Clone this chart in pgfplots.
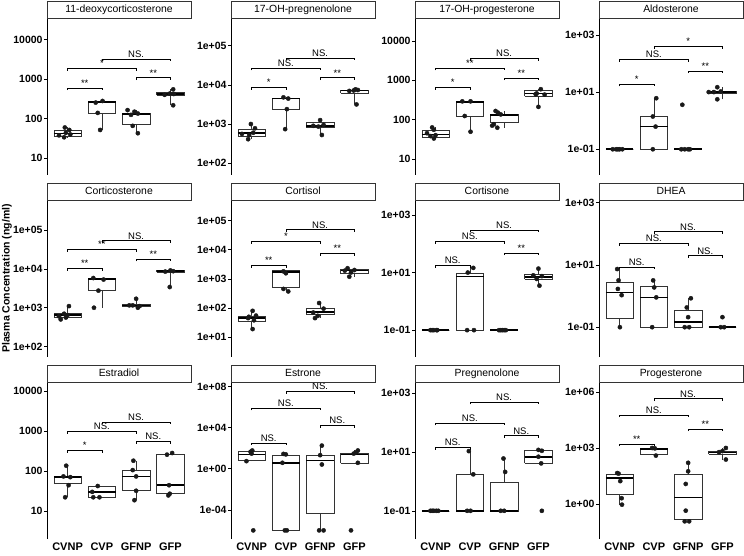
\documentclass[border=0pt]{standalone}
\usepackage{fontspec}
\setmainfont{Liberation Sans}
\usepackage{pgfplots}
\pgfplotsset{compat=1.18}
\usepgfplotslibrary{groupplots}
\definecolor{g20}{HTML}{333333}
\tikzset{
 boxl/.style={draw=g20, line width=0.6pt},
 brk/.style={draw=black, line width=0.55pt},
 lab/.style={anchor=base, yshift=1.6pt, inner sep=0pt, font=\fontsize{9.5}{11}\selectfont},
}
\newcommand{\bx}[6]{%
 \pgfmathsetmacro{\xl}{#1-0.4}%
 \pgfmathsetmacro{\xr}{#1+0.4}%
 \edef\doit{%
  \noexpand\addplot[boxl] coordinates {(#1,#2) (#1,#3)};%
  \noexpand\addplot[boxl] coordinates {(#1,#5) (#1,#6)};%
  \noexpand\addplot[boxl, fill=white] coordinates {(\xl,#3) (\xr,#3) (\xr,#5) (\xl,#5) (\xl,#3)};%
  \noexpand\addplot[black, line width=1.6pt] coordinates {(\xl,#4) (\xr,#4)};%
 }\doit}
\newcommand{\pts}[1]{\addplot[only marks, mark=*, mark size=2.1pt, black!90, mark options={fill=black!90}] coordinates {#1};}
\newcommand{\br}[4]{\draw[brk] ([yshift=-2.3pt]axis cs:#1,#3) -- (axis cs:#1,#3) -- node[lab]{#4} (axis cs:#2,#3) -- ([yshift=-2.3pt]axis cs:#2,#3);}
\begin{document}
\begin{tikzpicture}
\begin{groupplot}[
 group style={group size=4 by 3, horizontal sep=40pt, vertical sep=25pt},
 width=144pt, height=157pt, scale only axis,
 ymode=log,
 xmin=0.4, xmax=4.6, xtick={1,2,3,4}, xticklabels={},
 axis lines=left,
 axis line style={-, line width=0.6pt, black},
 x axis line style={draw=none},
 xtick style={draw=none},
 ytick style={black, line width=0.6pt},
 tick align=outside, major tick length=2.75pt, minor tick length=0pt,
 yticklabel style={font=\bfseries\fontsize{10.5}{12}\selectfont, inner sep=1.5pt},
 xticklabel style={font=\bfseries\fontsize{11}{13}\selectfont, inner sep=1pt},
 clip=false,
 every axis title/.style={at={(axis description cs:0.5,1)}, anchor=south, outer sep=0pt, draw=g20, line width=0.7pt, fill=white, minimum width=144pt, minimum height=17pt, inner sep=0pt, text height=7.6pt, text depth=2pt, font=\fontsize{10.4}{12}\selectfont},
]
% 1
\nextgroupplot[title={11-deoxycorticosterone}, ymin=3.8, ymax=34700, ytick={10,100,1000,10000}, yticklabels={10,100,1000,10000}]
\bx{1}{33}{37}{42}{50}{60}
\bx{2}{52}{137}{265}{280}{280}
\bx{3}{43}{74}{133}{137}{165}
\bx{4}{218}{400}{425}{470}{550}
\pts{(0.92,60) (1.05,52) (0.95,44) (1.08,40) (0.75,38) (0.9,34)
 (1.82,255) (2.02,280) (1.88,140) (1.95,52)
 (2.75,165) (2.95,150) (2.85,125) (3.05,135) (2.9,66) (3.05,43)
 (4.08,550) (3.98,430) (3.83,400) (4.1,420) (4.08,218)}
\br{1}{2}{600}{**}
\br{1}{3}{1870}{*}
\br{2}{4}{3240}{NS.}
\br{3}{4}{1080}{**}
% 2
\nextgroupplot[title={17-OH-pregnenolone}, ymin=50, ymax=510000, ytick={1e2,1e3,1e4,1e5}, yticklabels={1e+02,1e+03,1e+04,1e+05}]
\bx{1}{410}{480}{590}{750}{1000}
\bx{2}{740}{2400}{4470}{4570}{4800}
\bx{3}{525}{830}{890}{1120}{1260}
\bx{4}{3170}{6170}{7100}{7400}{7700}
\pts{(0.98,1000) (1.1,780) (0.72,560) (0.93,525) (0.9,410) (1.05,600)
 (1.93,4800) (2.07,4470) (2.03,2400) (1.98,740)
 (3.0,1260) (2.8,900) (2.95,860) (3.05,525) (3.1,950)
 (4.03,7700) (3.98,7200) (3.85,7000) (4.06,3170) (4.1,7400)}
\br{1}{2}{8700}{*}
\br{1}{3}{27000}{NS.}
\br{2}{4}{49000}{NS.}
\br{3}{4}{15200}{**}
% 3
\nextgroupplot[title={17-OH-progesterone}, ymin=3.9, ymax=38000, ytick={10,100,1000,10000}, yticklabels={10,100,1000,10000}]
\bx{1}{33}{35.5}{42}{52}{63}
\bx{2}{49}{123}{275}{282}{290}
\bx{3}{62}{83}{130}{135}{165}
\bx{4}{210}{400}{460}{540}{590}
\pts{(0.9,63) (0.95,55) (0.75,45) (0.85,38) (0.95,33) (1.0,40)
 (1.78,290) (2.02,290) (1.85,123) (2.02,49)
 (2.75,165) (2.82,150) (2.9,135) (2.7,76) (2.8,62) (2.65,70)
 (4.07,590) (3.95,460) (4.18,430) (4.0,210) (3.92,440)}
\br{1}{2}{660}{*}
\br{1}{3}{2040}{**}
\br{2}{4}{3550}{NS.}
\br{3}{4}{1150}{**}
% 4
\nextgroupplot[title={Aldosterone}, ymin=0.0126, ymax=3900, ytick={0.1,10,1000}, yticklabels={1e-01,1e+01,1e+03}]
\bx{1}{0.1}{0.1}{0.1}{0.1}{0.1}
\bx{2}{0.1}{0.1}{0.62}{1.44}{6.1}
\bx{3}{0.1}{0.1}{0.1}{0.1}{0.1}
\bx{4}{5.6}{9.2}{10}{11}{14.8}
\pts{(0.8,0.1) (0.9,0.1) (1.0,0.1) (1.08,0.1) (0.95,0.1)
 (2.07,6.1) (1.97,1.4) (2.05,0.62) (1.97,0.1)
 (2.83,3.6) (2.8,0.1) (2.9,0.1) (3.0,0.1) (3.05,0.1)
 (3.6,10) (3.75,10) (3.85,14.8) (3.85,5.6) (3.95,10.5)}
\br{1}{2}{19}{*}
\br{1}{3}{141}{NS.}
\br{2}{4}{390}{*}
\br{3}{4}{55}{**}
% 5
\nextgroupplot[title={Corticosterone}, ymin=54, ymax=590000, ytick={1e2,1e3,1e4,1e5}, yticklabels={1e+02,1e+03,1e+04,1e+05},
 ylabel={Plasma Concentration (ng/ml)}, ylabel style={at={(axis description cs:-0.243,0.5)}, anchor=south, inner sep=0pt, font=\bfseries\fontsize{10.5}{12}\selectfont}]
\bx{1}{500}{580}{650}{740}{1100}
\bx{2}{1000}{2750}{5500}{5700}{5800}
\bx{3}{1000}{1100}{1150}{1230}{1700}
\bx{4}{3400}{8300}{8700}{9100}{9100}
\pts{(1.04,1100) (0.9,700) (0.75,600) (0.8,500) (0.95,560) (1.0,650)
 (1.75,5800) (2.05,5300) (1.9,2750) (1.77,1000)
 (3.0,1700) (2.9,1150) (3.05,1000) (2.8,1150) (3.1,1100)
 (4.0,9100) (3.85,8500) (4.08,8700) (3.98,3400)}
\br{1}{2}{10200}{**}
\br{1}{3}{32000}{**}
\br{2}{4}{53000}{NS.}
\br{3}{4}{17800}{**}
% 6
\nextgroupplot[title={Cortisol}, ymin=2.1, ymax=500000, ytick={1e1,1e2,1e3,1e4,1e5}, yticklabels={1e+01,1e+02,1e+03,1e+04,1e+05}]
\bx{1}{19}{36}{45}{54}{80}
\bx{2}{370}{500}{1700}{1950}{1950}
\bx{3}{45}{59}{74}{95}{148}
\bx{4}{1180}{1500}{1900}{2100}{2300}
\pts{(1.03,80) (1.13,55) (0.9,45) (1.07,38) (1.03,19) (0.92,50)
 (1.93,1800) (2.0,1550) (1.93,450) (2.07,370)
 (2.97,148) (3.1,95) (2.8,70) (2.93,54) (2.85,45)
 (3.8,2300) (3.72,1900) (3.9,1650) (3.85,1180) (4.0,2000)}
\br{1}{2}{2900}{**}
\br{1}{3}{19400}{*}
\br{2}{4}{48000}{NS.}
\br{3}{4}{7400}{**}
% 7
\nextgroupplot[title={Cortisone}, ymin=0.0117, ymax=3300, ytick={0.1,10,1000}, yticklabels={1e-01,1e+01,1e+03}]
\bx{1}{0.1}{0.1}{0.1}{0.1}{0.1}
\bx{2}{0.1}{0.1}{7.4}{9.3}{14.5}
\bx{3}{0.1}{0.1}{0.1}{0.1}{0.1}
\bx{4}{3.5}{5.8}{6.9}{8.5}{13.7}
\pts{(0.85,0.1) (0.95,0.1) (1.03,0.1) (0.9,0.1) (1.05,0.1)
 (2.1,14.5) (1.94,10) (1.92,0.1) (2.12,0.1)
 (2.85,0.1) (2.95,0.1) (3.0,0.1) (3.05,0.1) (2.9,0.1)
 (4.0,13.7) (3.85,8) (4.1,7.5) (3.95,6) (4.03,3.5)}
\br{1}{2}{17.5}{NS.}
\br{1}{3}{120}{NS.}
\br{2}{4}{300}{NS.}
\br{3}{4}{48}{**}
% 8
\nextgroupplot[title={DHEA}, ymin=0.011, ymax=1230, ytick={0.1,10,1000}, yticklabels={1e-01,1e+01,1e+03}]
\bx{1}{0.1}{0.19}{1.3}{2.8}{7.4}
\bx{2}{0.1}{0.1}{0.91}{2.0}{3.2}
\bx{3}{0.1}{0.1}{0.15}{0.35}{0.85}
\bx{4}{0.1}{0.1}{0.1}{0.1}{0.1}
\pts{(0.93,7.4) (0.97,3.2) (0.95,1.7) (1.06,1.07) (1.01,0.1)
 (1.98,3.2) (2.01,1.9) (2.07,0.91) (1.95,0.1)
 (3.08,0.85) (2.96,0.43) (3.0,0.21) (2.9,0.1) (3.03,0.1)
 (4.0,0.21) (3.95,0.1) (4.05,0.1)}
\br{1}{2}{8.7}{NS.}
\br{1}{3}{50}{NS.}
\br{2}{4}{117}{NS.}
\br{3}{4}{20}{NS.}
% 9
\nextgroupplot[title={Estradiol}, ymin=2.0, ymax=16600, ytick={10,100,1000,10000}, yticklabels={10,100,1000,10000}, xticklabels={CVNP,CVP,GFNP,GFP}]
\bx{1}{22}{48}{71}{73}{135}
\bx{2}{22}{22}{30}{42}{42}
\bx{3}{18.6}{32}{73}{105}{180}
\bx{4}{24.5}{27}{44}{260}{280}
\pts{(0.96,135) (0.88,73) (1.08,70) (1.03,44) (0.93,22)
 (1.88,42) (1.72,30) (1.75,22) (1.93,22)
 (2.92,180) (2.9,105) (3.0,73) (3.0,32) (2.95,18.6)
 (3.9,255) (4.05,280) (3.96,44) (3.98,27) (3.94,24.5)}
\br{1}{2}{325}{*}
\br{1}{3}{960}{NS.}
\br{2}{4}{1650}{NS.}
\br{3}{4}{540}{NS.}
% 10
\nextgroupplot[title={Estrone}, ymin=1.45e-7, ymax=2.8e8, ytick={1e-4,1,1e4,1e8}, yticklabels={1e-04,1e+00,1e+04,1e+08}, xticklabels={CVNP,CVP,GFNP,GFP}]
\bx{1}{5.5}{6.9}{24}{45}{60}
\bx{2}{1e-6}{1e-6}{3.8}{21}{28}
\bx{3}{1e-6}{4.5e-5}{6.5}{21}{180}
\bx{4}{3.8}{3.8}{24.5}{30}{60}
\pts{(1.02,60) (0.97,45) (0.85,5.5) (1.05,1e-6) (1.0,30)
 (1.93,28) (2.0,25) (1.9,3.8) (1.97,1e-6) (2.03,1e-6)
 (3.05,180) (3.0,21) (3.05,2.6) (2.97,1e-6) (3.1,1e-6)
 (4.1,60) (3.98,30) (4.1,3.8) (3.9,1e-6) (4.05,40)}
\br{1}{2}{330}{NS.}
\br{1}{3}{8.1e5}{NS.}
\br{2}{4}{3.3e7}{NS.}
\br{3}{4}{1.6e4}{NS.}
% 11
\nextgroupplot[title={Pregnenolone}, ymin=0.011, ymax=2400, ytick={0.1,10,1000}, yticklabels={1e-01,1e+01,1e+03}, xticklabels={CVNP,CVP,GFNP,GFP}]
\bx{1}{0.1}{0.1}{0.1}{0.1}{0.1}
\bx{2}{0.1}{0.1}{0.1}{1.74}{10.7}
\bx{3}{0.1}{0.1}{0.1}{0.95}{6}
\bx{4}{4.1}{4.1}{6.9}{11.5}{11.8}
\pts{(0.85,0.1) (0.95,0.1) (1.02,0.1) (1.08,0.1) (0.9,0.1)
 (1.97,10.7) (2.1,1.74) (1.92,0.1) (2.02,0.1)
 (2.98,6) (3.03,2.1) (2.9,0.1) (3.0,0.1)
 (4.0,11.8) (4.1,11) (4.0,6.9) (4.08,4.1) (4.1,0.1)}
\br{1}{2}{14.5}{NS.}
\br{1}{3}{97}{NS.}
\br{2}{4}{500}{NS.}
\br{3}{4}{36}{NS.}
% 12
\nextgroupplot[title={Progesterone}, ymin=0.0129, ymax=3.5e6, ytick={1,1000,1e6}, yticklabels={1e+00,1e+03,1e+06}, xticklabels={CVNP,CVP,GFNP,GFP}]
\bx{1}{0.9}{3.1}{24}{41}{45}
\bx{2}{390}{480}{850}{1000}{1000}
\bx{3}{0.115}{0.155}{2.2}{37}{160}
\bx{4}{240}{480}{560}{680}{1000}
\pts{(0.93,45) (0.97,42) (1.02,16.6) (1.06,2.0) (1.07,0.9)
 (1.95,1000) (2.03,950) (2.06,390)
 (3.0,160) (3.0,56) (2.93,11.7) (2.93,0.43) (2.9,0.115) (3.03,0.115)
 (4.1,1000) (4.0,680) (3.9,600) (4.1,240)}
\br{1}{2}{1660}{**}
\br{1}{3}{60000}{NS.}
\br{2}{4}{4.4e5}{NS.}
\br{3}{4}{10700}{**}
\end{groupplot}
\pgfresetboundingbox
\path ([xshift=-47pt,yshift=18pt]group c1r1.north west) rectangle ([xshift=1pt,yshift=-16pt]group c4r3.south east);
\end{tikzpicture}
\end{document}
